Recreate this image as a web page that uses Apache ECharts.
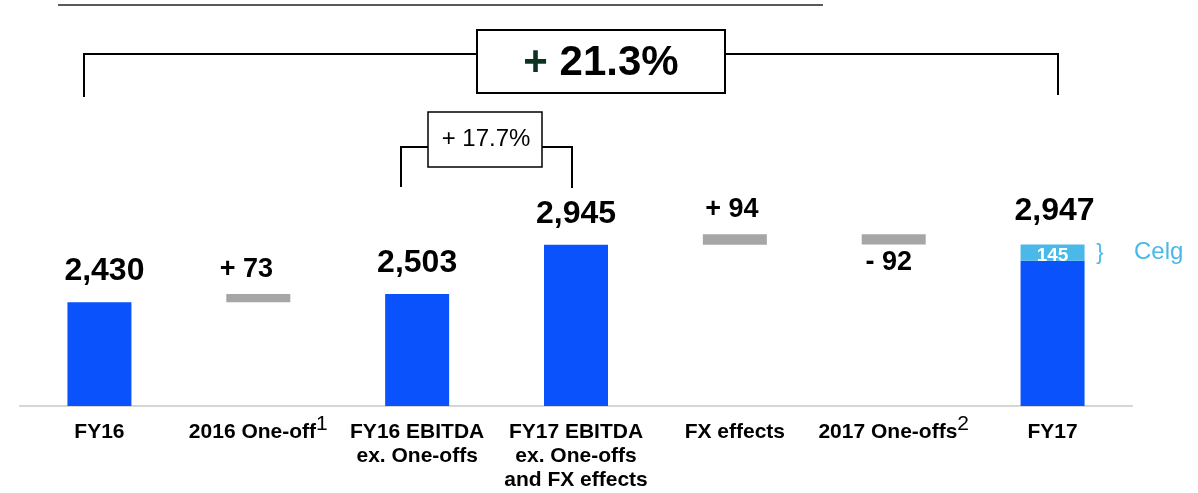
<!DOCTYPE html>
<html>
<head>
<meta charset="utf-8">
<script src="https://cdn.jsdelivr.net/npm/echarts@6/dist/echarts.min.js"></script>
<style>
html,body{margin:0;padding:0;background:#fff;}
#c{width:1198px;height:493px;}
</style>
</head>
<body>
<div id="c"></div>
<script>
// ---- data ----
const categories = ['FY16', '2016 One-off', 'FY16 EBITDA\nex. One-offs', 'FY17 EBITDA\nex. One-offs\nand FX effects', 'FX effects', '2017 One-offs', 'FY17'];
const footnotes = ['', '1', '', '', '', '2', ''];
const totals = [2430, null, 2503, 2945, null, null, 2947];
const changes = [null, 73, null, null, 94, -92, null];
const celgene = [null, null, null, null, null, null, 145];
const totalGrowth = '21.3%';
const exOneOffGrowth = '17.7%';
const celgeneNote = 'Celg';

// ---- styling ----
const FONT = '"Liberation Sans", Arial, sans-serif';
const BLUE = '#0952FC';
const GRAY = '#A6A6A6';
const LIGHT = '#4AB8E8';
const labelDx = [5, -12, 0, 0, -3, -5, 2];

const fmt = v => v.toLocaleString('en-US');

// running level to place floating bars
let running = 0;
const baseData = [];
categories.forEach((c, i) => {
  if (totals[i] != null) { running = totals[i]; baseData.push(0); }
  else {
    const ch = changes[i];
    baseData.push(ch > 0 ? running : running + ch);
    running += ch;
  }
});

const changeData = changes.map((c, i) => c == null ? '-' : {
  value: Math.abs(c),
  label: {
    position: c > 0 ? 'top' : 'bottom',
    distance: c > 0 ? 11 : 5,
    offset: [labelDx[i], 0],
    formatter: (c > 0 ? '+ ' : '- ') + Math.abs(c)
  }
});

const totalData = totals.map((t, i) => t == null ? '-' : {
  value: t - (celgene[i] || 0),
  label: { show: !celgene[i], offset: [labelDx[i], 0], formatter: fmt(t) }
});

const celgeneData = celgene.map(c => c == null ? '-' : c);
const capData = totals.map((t, i) => celgene[i] ? [categories[i], t] : null).filter(Boolean);

const chart = echarts.init(document.getElementById('c'), null, { renderer: 'canvas' });

chart.setOption({
  animation: false,
  backgroundColor: '#fff',
  textStyle: { fontFamily: FONT },
  grid: { left: 20, right: 66, top: 127, bottom: 87 },
  xAxis: {
    type: 'category',
    data: categories,
    axisTick: { show: false },
    axisLine: { lineStyle: { color: '#D6D6D6', width: 2 } },
    axisLabel: {
      interval: 0,
      margin: 14,
      color: '#000',
      fontFamily: FONT,
      fontSize: 21,
      fontWeight: 'bold',
      lineHeight: 24,
      formatter: (v, i) => footnotes[i] ? v + '{sup|' + footnotes[i] + '}' : v,
      rich: {
        sup: { fontSize: 21, fontWeight: 'normal', color: '#000', fontFamily: FONT, lineHeight: 24, padding: [0, 0, 15, 0] }
      }
    }
  },
  yAxis: { type: 'value', min: 1500, max: 4000, show: false, splitLine: { show: false } },
  series: [
    {
      name: 'base', type: 'bar', stack: 'w', barWidth: 64, silent: true,
      itemStyle: { color: 'transparent' }, data: baseData
    },
    {
      name: 'change', type: 'bar', stack: 'w', barWidth: 64,
      itemStyle: { color: GRAY },
      label: { show: true, color: '#000', fontFamily: FONT, fontSize: 27, fontWeight: 'bold' },
      data: changeData
    },
    {
      name: 'total', type: 'bar', stack: 'w', barWidth: 64,
      itemStyle: { color: BLUE },
      label: { show: true, position: 'top', distance: 15, color: '#000', fontFamily: FONT, fontSize: 32, fontWeight: 'bold' },
      data: totalData
    },
    {
      name: 'Celgene', type: 'bar', stack: 'w', barWidth: 64,
      itemStyle: { color: LIGHT },
      label: { show: true, position: 'inside', offset: [0, 3], color: '#fff', fontFamily: FONT, fontSize: 19, fontWeight: 'bold' },
      data: celgeneData
    },
    {
      name: 'cap', type: 'scatter', symbolSize: 0, silent: true,
      itemStyle: { opacity: 1, color: '#000' },
      label: { show: true, position: 'top', distance: 17, offset: [2, 0], color: '#000', opacity: 1, fontFamily: FONT, fontSize: 32, fontWeight: 'bold', formatter: p => fmt(p.value[1]) },
      data: capData
    }
  ],
  graphic: [
    { type: 'line', shape: { x1: 58, y1: 5, x2: 823, y2: 5 }, style: { stroke: '#595959', lineWidth: 2 } },
    { type: 'polyline', shape: { points: [[84, 97], [84, 54], [1058, 54], [1058, 95]] }, style: { stroke: '#000', lineWidth: 2, fill: null } },
    { type: 'rect', shape: { x: 477, y: 30, width: 248, height: 63 }, style: { fill: '#fff', stroke: '#000', lineWidth: 2 } },
    { type: 'text', x: 601, y: 63, style: {
        text: '{p|+} ' + totalGrowth, align: 'center', verticalAlign: 'middle',
        font: 'bold 42px ' + FONT, fill: '#000',
        rich: { p: { fill: '#0D3320', font: 'bold 42px ' + FONT } }
      } },
    { type: 'polyline', shape: { points: [[401, 187], [401, 147], [572, 147], [572, 188]] }, style: { stroke: '#000', lineWidth: 2, fill: null } },
    { type: 'rect', shape: { x: 428, y: 112, width: 114, height: 55 }, style: { fill: '#fff', stroke: '#000', lineWidth: 1.5 } },
    { type: 'text', x: 486, y: 139, style: { text: '+ ' + exOneOffGrowth, align: 'center', verticalAlign: 'middle', font: '24px ' + FONT, fill: '#000' } },
    { type: 'text', x: 1100, y: 253, style: { text: '}', align: 'center', verticalAlign: 'middle', font: '22px ' + FONT, fill: LIGHT } },
    { type: 'text', x: 1134, y: 252, style: { text: celgeneNote, align: 'left', verticalAlign: 'middle', font: '24px ' + FONT, fill: LIGHT } }
  ]
});
</script>
</body>
</html>
